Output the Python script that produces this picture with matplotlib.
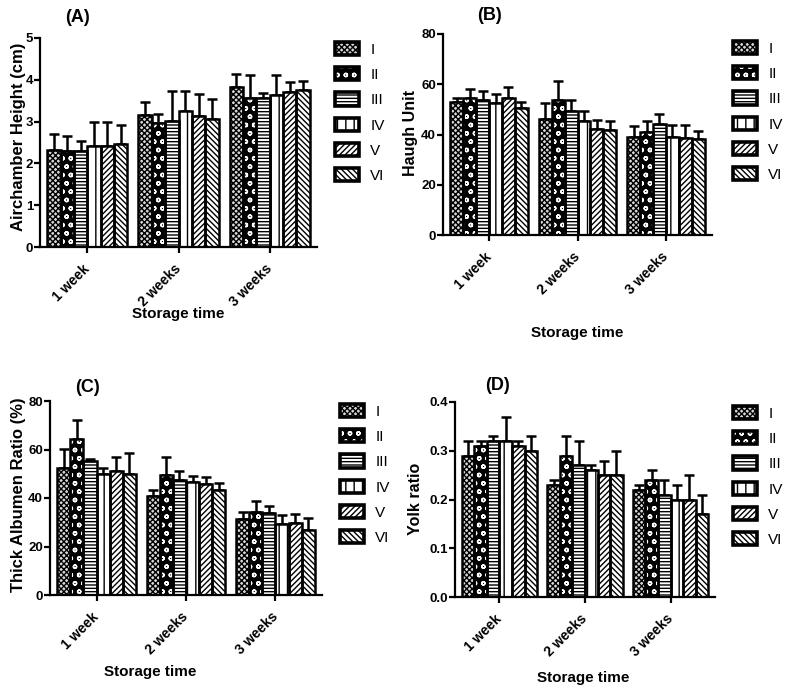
import matplotlib
matplotlib.use("Agg")
import matplotlib.pyplot as plt
from matplotlib.legend_handler import HandlerTuple
from matplotlib.patches import Patch
import numpy as np

plt.rcParams["font.family"] = ["Liberation Sans", "DejaVu Sans"]
plt.rcParams["hatch.linewidth"] = 1.0

W, H = 785, 695

# ── Data ─────────────────────────────────────────────────────────────────────
groups = ["1 week", "2 weeks", "3 weeks"]
treatments = ["I", "II", "III", "IV", "V", "VI"]

# (A) air chamber height, cm  (rows = treatments, cols = weeks)
air_mean = [[2.32, 3.15, 3.82],
            [2.30, 2.97, 3.57],
            [2.30, 3.02, 3.57],
            [2.42, 3.26, 3.63],
            [2.42, 3.14, 3.71],
            [2.47, 3.07, 3.76]]
air_sd = [[0.38, 0.31, 0.31],
          [0.36, 0.22, 0.54],
          [0.24, 0.72, 0.12],
          [0.58, 0.47, 0.48],
          [0.58, 0.52, 0.23],
          [0.44, 0.46, 0.20]]

# (B) Haugh unit
hu_mean = [[52.8, 46.2, 38.9],
           [54.7, 53.8, 41.0],
           [53.8, 49.5, 44.0],
           [52.7, 45.4, 38.9],
           [54.5, 42.3, 38.6],
           [50.4, 41.8, 38.1]]
hu_sd = [[1.8, 6.5, 4.6],
         [3.3, 7.5, 4.3],
         [3.5, 4.2, 4.1],
         [3.3, 4.1, 4.9],
         [4.4, 3.3, 5.2],
         [2.7, 3.4, 3.4]]

# (C) thick albumen ratio, %
tar_mean = [[52.2, 40.8, 31.2],
            [64.3, 49.4, 34.3],
            [55.3, 47.3, 33.8],
            [50.1, 46.4, 29.2],
            [51.3, 45.7, 29.6],
            [50.1, 43.5, 27.0]]
tar_sd = [[8.0, 2.4, 3.0],
          [7.7, 7.5, 4.3],
          [0.7, 3.7, 3.1],
          [2.2, 2.5, 3.6],
          [5.5, 2.9, 3.6],
          [8.5, 2.8, 4.9]]

# (D) yolk ratio
yr_mean = [[0.29, 0.23, 0.22],
           [0.31, 0.29, 0.24],
           [0.32, 0.27, 0.21],
           [0.32, 0.26, 0.20],
           [0.31, 0.25, 0.20],
           [0.30, 0.25, 0.17]]
yr_sd = [[0.03, 0.01, 0.01],
         [0.01, 0.04, 0.02],
         [0.01, 0.05, 0.03],
         [0.05, 0.01, 0.03],
         [0.01, 0.03, 0.05],
         [0.03, 0.05, 0.04]]

# ── Styles: (face, hatch colour, hatch) ──────────────────────────────────────
STYLES = [("#d8d8d8", "black", "xxxxxx"),
          ("black", "white", "oo"),
          ("white", "black", "-----"),
          ("white", "black", "||"),
          ("white", "black", "//////"),
          ("white", "black", "\\\\\\\\\\\\")]


def px(x, y):
    return x / W, 1 - y / H


def panel(fig, rect, mean, sd, ylim, yticks, yfmt, ylabel, title,
          title_xy, ylabel_xy, xlabel_xy, legend_xy, ylabel_size):
    l, t, r, b = rect
    ax = fig.add_axes([l / W, 1 - b / H, (r - l) / W, (b - t) / H])
    x = np.arange(len(groups))
    n = len(treatments)
    bw = 0.88 / n
    handles = []
    for i, (face, hc, hatch) in enumerate(STYLES):
        xs = x - 0.44 + bw * (i + 0.5)
        m = np.array(mean[i])
        e = np.array(sd[i])
        ax.errorbar(xs, m, yerr=[np.zeros_like(e), e], fmt="none",
                    ecolor="black", elinewidth=1.8, capsize=3.5,
                    capthick=1.8, zorder=1)
        ax.bar(xs, m, bw, color=face, edgecolor=hc, hatch=hatch,
               linewidth=0, zorder=2)
        ax.bar(xs, m, bw, facecolor="none", edgecolor="black",
               linewidth=1.8, zorder=3)
        h1 = Patch(facecolor=face, edgecolor=hc, hatch=hatch, linewidth=0)
        h2 = Patch(facecolor="none", edgecolor="black", linewidth=2.6)
        handles.append((h1, h2))

    ax.set_xlim(-0.52, 2.52)
    ax.set_ylim(*ylim)
    ax.set_yticks(yticks)
    ax.set_yticklabels([yfmt.format(v) for v in yticks],
                       fontsize=9.5, fontweight="bold")
    ax.set_xticks(x)
    ax.set_xticklabels(groups, rotation=45, ha="right", va="center",
                       rotation_mode="anchor", fontsize=10, fontweight="bold")
    for s in ("top", "right"):
        ax.spines[s].set_visible(False)
    for s in ("left", "bottom"):
        ax.spines[s].set_linewidth(1.6)
    ax.tick_params(axis="both", direction="out", length=4, width=1.6,
                   colors="black")
    ax.tick_params(axis="x", pad=10)
    ax.tick_params(axis="y", pad=1)

    ax.set_ylabel(ylabel, fontsize=ylabel_size, fontweight="bold",
                  va="center", ha="center")
    ax.yaxis.set_label_coords(*px(*ylabel_xy), transform=fig.transFigure)
    ax.set_xlabel("Storage time", fontsize=11, fontweight="bold",
                  va="center", ha="center")
    ax.xaxis.set_label_coords(*px(*xlabel_xy), transform=fig.transFigure)
    fig.text(*px(*title_xy), title, fontsize=13, fontweight="bold",
             ha="center", va="center")

    ax.legend(handles, treatments,
              handler_map={tuple: HandlerTuple(ndivide=1, pad=0)},
              loc="upper left", bbox_to_anchor=px(*legend_xy),
              bbox_transform=fig.transFigure, frameon=False, fontsize=11,
              handlelength=1.6, handleheight=0.95, labelspacing=0.68,
              handletextpad=0.7, borderpad=0, borderaxespad=0)
    return ax


fig = plt.figure(figsize=(W / 100, H / 100), dpi=100, facecolor="white")

panel(fig, (40, 38, 317, 247), air_mean, air_sd, (0, 5), [0, 1, 2, 3, 4, 5],
      "{:g}", "Airchamber Height (cm)", "(A)",
      (78, 18), (19, 137), (178, 314), (335, 42), 12)
panel(fig, (443, 34, 712, 235), hu_mean, hu_sd, (0, 80), [0, 20, 40, 60, 80],
      "{:g}", "Haugh Unit", "(B)",
      (490, 16), (411, 133), (577, 333), (733, 41), 11.5)
panel(fig, (50, 401, 322, 595), tar_mean, tar_sd, (0, 80), [0, 20, 40, 60, 80],
      "{:g}", "Thick Albumen Ratio (%)", "(C)",
      (88, 388), (19, 495), (150, 672), (340, 404), 12)
panel(fig, (455, 402, 715, 597), yr_mean, yr_sd, (0, 0.4),
      [0.0, 0.1, 0.2, 0.3, 0.4], "{:.1f}", "Yolk ratio", "(D)",
      (497, 386), (416, 499), (583, 678), (733, 406), 11.5)

fig.savefig("out.png", dpi=100, facecolor="white")
